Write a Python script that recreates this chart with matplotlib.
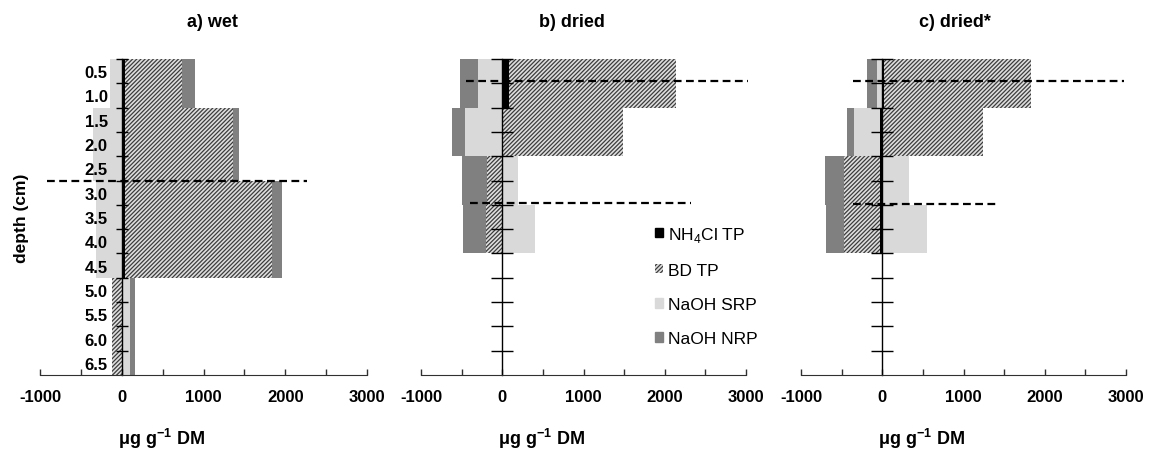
import matplotlib
matplotlib.use("Agg")
import numpy as np
import matplotlib.pyplot as plt
from matplotlib.patches import Patch

plt.rcParams['font.family'] = ['Liberation Sans', 'DejaVu Sans']
plt.rcParams['font.weight'] = 'bold'
plt.rcParams['mathtext.fontset'] = 'custom'
plt.rcParams['mathtext.rm'] = 'Liberation Sans:normal'
plt.rcParams['mathtext.bf'] = 'Liberation Sans:bold'
plt.rcParams['axes.unicode_minus'] = False
plt.rcParams['hatch.linewidth'] = 0.9

# depth rows (cm)
depth_labels = ['0.5', '1.0', '1.5', '2.0', '2.5', '3.0', '3.5',
                '4.0', '4.5', '5.0', '5.5', '6.0', '6.5']
series_names = ['NH$_4$Cl TP', 'BD TP', 'NaOH SRP', 'NaOH NRP']
panel_titles = ['a) wet', 'b) dried', 'c) dried*']

# a) wet, µg g-1 DM
wet_nh4 = [45, 45, 45, 45, 45, 45, 45, 45, 45, 0, 0, 0, 0]
wet_bd = [690, 690, 1315, 1315, 1315, 1790, 1790, 1790, 1790, -115, -115, -115, -115]
wet_srp = [-143, -143, -347, -347, -347, -315, -315, -315, -315, 100, 100, 100, 100]
wet_nrp = [155, 155, 78, 78, 78, 122, 122, 122, 122, 65, 65, 65, 65]

# b) dried
dry_nh4 = [82, 82, 0, 0, 0, 0, 0, 0, 0, 0, 0, 0, 0]
dry_bd = [2053, 2053, 1485, 1485, -188, -188, -196, -196, 0, 0, 0, 0, 0]
dry_srp = [-303, -303, -454, -454, 193, 193, 405, 405, 0, 0, 0, 0, 0]
dry_nrp = [-212, -212, -163, -163, -307, -307, -286, -286, 0, 0, 0, 0, 0]

# c) dried*
drs_nh4 = [20, 20, -25, -25, -25, -25, -25, -25, 0, 0, 0, 0, 0]
drs_bd = [1810, 1810, 1240, 1240, -445, -445, -450, -450, 0, 0, 0, 0, 0]
drs_srp = [-65, -65, -325, -325, 333, 333, 547, 547, 0, 0, 0, 0, 0]
drs_nrp = [-125, -125, -90, -90, -235, -235, -222, -222, 0, 0, 0, 0, 0]

# dashed marker lines: (row position, x start, x end)
wet_dash = [(4.5, -918, 2265)]
dry_dash = [(0.42, -440, 3020), (5.42, -400, 2320)]
drs_dash = [(0.42, -356, 2970), (5.47, -356, 1410)]

styles = [dict(color='black'),
          dict(facecolor='#dedede', edgecolor='#3c3c3c', hatch='////////', linewidth=0),
          dict(color='#d9d9d9'),
          dict(color='#808080')]

fig = plt.figure(figsize=(11.56, 4.52), dpi=100)
lefts = [40, 421, 801]
widths = [327, 325, 325]
title_x = [0.526, 0.465, 0.474]
tick_lens = [9, 15.6, 15.6]
panels = [(wet_nh4, wet_bd, wet_srp, wet_nrp),
          (dry_nh4, dry_bd, dry_srp, dry_nrp),
          (drs_nh4, drs_bd, drs_srp, drs_nrp)]
dashes = [wet_dash, dry_dash, drs_dash]

axes = []
for k in range(3):
    ax = fig.add_axes([lefts[k] / 1156, (452 - 376) / 452, widths[k] / 1156, 316 / 452])
    axes.append(ax)
    y = np.arange(len(depth_labels))
    pos = np.zeros(len(y))
    neg = np.zeros(len(y))
    for vals, st, name in zip(panels[k], styles, series_names):
        vals = np.array(vals, dtype=float)
        left = np.where(vals >= 0, pos, neg)
        ax.barh(y, vals, left=left, height=1.0, label=name, zorder=1, **st)
        pos += np.clip(vals, 0, None)
        neg += np.clip(vals, None, 0)

    for yy, x0, x1 in dashes[k]:
        ax.plot([x0, x1], [yy, yy], color='black', lw=1.6, ls=(0, (3.5, 2)),
                clip_on=False, zorder=4)

    ax.set_xlim(-1000, 3000)
    ax.set_ylim(12.5, -0.5)
    for s in ['top', 'right']:
        ax.spines[s].set_visible(False)
    ax.spines['left'].set_position(('data', 0))
    ax.spines['left'].set_linewidth(1.0)
    ax.spines['bottom'].set_color('#303030')

    ax.set_xticks(np.arange(-1000, 3001, 1000))
    ax.set_xticks(np.arange(-500, 3000, 1000), minor=True)
    ax.tick_params(axis='x', which='both', direction='in', length=4, width=1,
                   color='#303030', labelsize=12, pad=10)

    ax.set_yticks(np.arange(-0.5, 12, 1))
    ax.set_yticks(y, minor=True)
    ax.tick_params(axis='y', which='major', direction='inout', length=tick_lens[k],
                   width=1, labelleft=False)
    if k == 0:
        ax.set_yticklabels(depth_labels, minor=True)
        ax.tick_params(axis='y', which='minor', length=0, pad=10, labelsize=12)
    else:
        ax.tick_params(axis='y', which='minor', length=0, labelleft=False)

    ax.text(title_x[k], 1.12, panel_titles[k], transform=ax.transAxes,
            ha='center', va='center', fontsize=13)
    ax.text(0.37, -0.2, r'μg g$^{\mathbf{-1}}$ DM', transform=ax.transAxes,
            ha='center', va='center', fontsize=13)

fig.text(22 / 1156, 1 - 218 / 452, 'depth (cm)', rotation=90,
         ha='center', va='center', fontsize=12.5)

handles = [Patch(**st) for st in styles]
axes[1].legend(handles, series_names, loc='upper left', bbox_to_anchor=(0.72, 0.475),
               frameon=False, prop={'weight': 'normal', 'size': 12.5},
               handlelength=0.45, handleheight=0.45, handletextpad=0.3,
               labelspacing=1.1, borderpad=0, borderaxespad=0)

fig.savefig('out.png', dpi=100)
